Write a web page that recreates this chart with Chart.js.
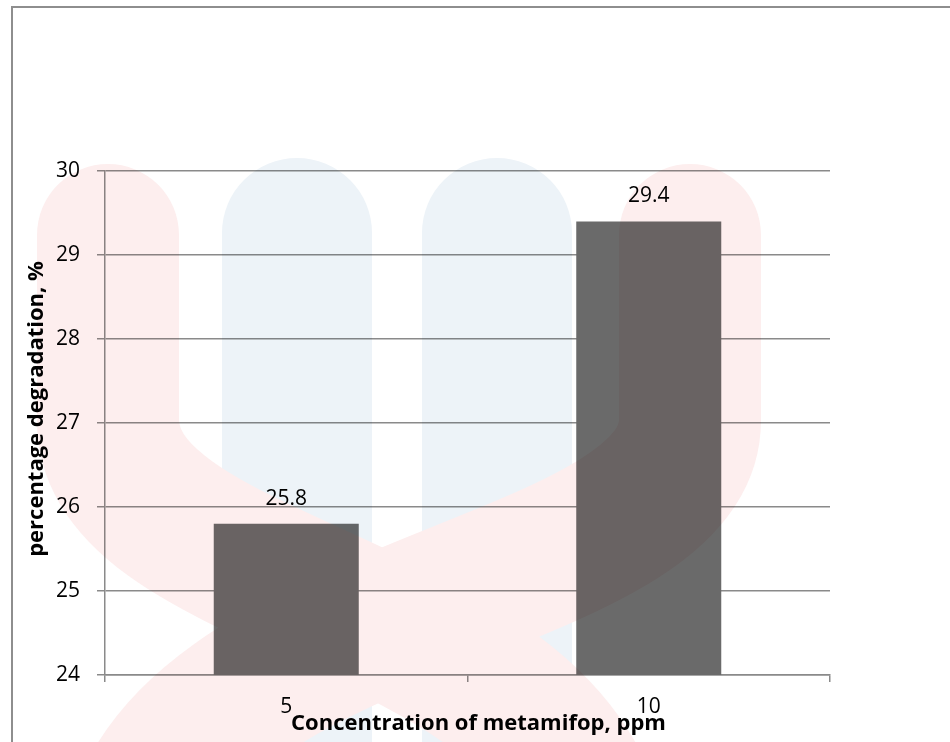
<!DOCTYPE html>
<html><head><meta charset="utf-8">
<script src="https://cdn.jsdelivr.net/npm/chart.js@4.4.1/dist/chart.umd.min.js"></script>
<style>
html,body{margin:0;padding:0;background:#fff;overflow:hidden;}
#wrap{position:relative;width:950px;height:742px;overflow:hidden;}
#c{position:absolute;left:0;top:0;}
#frame{position:absolute;left:11px;top:6px;width:2000px;height:2000px;border-left:2px solid #8e8e8e;border-top:2px solid #8e8e8e;pointer-events:none;}
</style></head><body>
<div id="wrap"><canvas id="c" width="950" height="742"></canvas><div id="frame"></div></div>
<script>
const categories = ['5', '10'];
const degradation = [25.8, 29.4];
const yTicks = [24, 25, 26, 27, 28, 29, 30];
const xTitle = 'Concentration of metamifop, ppm';
const yTitle = 'percentage degradation, %';

const FAMILY = "'Open Sans', sans-serif";
const gridColor = '#8a8a8a';

const valueLabels = {
  id: 'valueLabels',
  afterDatasetsDraw(chart) {
    const ctx = chart.ctx;
    const meta = chart.getDatasetMeta(0);
    const vals = chart.data.datasets[0].data;
    ctx.save();
    ctx.font = '21px ' + FAMILY;
    ctx.fillStyle = '#000';
    ctx.textAlign = 'center';
    ctx.textBaseline = 'alphabetic';
    meta.data.forEach((bar, i) => {
      ctx.fillText(String(vals[i]), bar.x, bar.y - 19);
    });
    ctx.restore();
  }
};

const axisTitles = {
  id: 'axisTitles',
  afterDraw(chart) {
    const ctx = chart.ctx;
    const a = chart.chartArea;
    ctx.save();
    ctx.font = 'bold 22px ' + FAMILY;
    ctx.fillStyle = '#000';
    ctx.textAlign = 'center';
    ctx.textBaseline = 'alphabetic';
    ctx.fillText(xTitle, (a.left + a.right) / 2 + 11, a.bottom + 55);
    ctx.translate(a.left - 68, (a.top + a.bottom) / 2 - 14);
    ctx.rotate(-Math.PI / 2);
    ctx.textBaseline = 'middle';
    ctx.fillText(yTitle, 0, 0);
    ctx.restore();
  }
};

// faint background logo (decorative), blended over the finished chart
const watermark = {
  id: 'watermark',
  afterDraw(chart) {
    const w = chart.width, h = chart.height;
    const off = document.createElement('canvas');
    off.width = w; off.height = h;
    const o = off.getContext('2d');
    o.fillStyle = '#fff';
    o.fillRect(0, 0, w, h);
    o.lineCap = 'round';
    o.strokeStyle = 'rgb(237,243,248)';
    o.lineWidth = 150;
    o.beginPath();
    o.moveTo(297, 233); o.lineTo(297, 900);
    o.moveTo(497, 233); o.lineTo(497, 900);
    o.stroke();
    o.strokeStyle = 'rgb(253,238,238)';
    o.lineWidth = 142;
    o.beginPath();
    o.moveTo(108, 235); o.lineTo(108, 420);
    o.bezierCurveTo(108, 600, 600, 600, 600, 880);
    o.moveTo(690, 235); o.lineTo(690, 420);
    o.bezierCurveTo(690, 600, 130, 600, 130, 880);
    o.stroke();
    const ctx = chart.ctx;
    ctx.save();
    ctx.globalCompositeOperation = 'multiply';
    ctx.drawImage(off, 0, 0);
    ctx.restore();
  }
};

new Chart(document.getElementById('c'), {
  type: 'bar',
  data: {
    labels: categories,
    datasets: [{
      data: degradation,
      backgroundColor: '#6a6a6a',
      borderWidth: 0,
      barPercentage: 0.4,
      categoryPercentage: 1.0
    }]
  },
  options: {
    responsive: false,
    animation: false,
    devicePixelRatio: 1,
    layout: { padding: { left: 0, right: 120, top: 171, bottom: 0 } },
    plugins: { legend: { display: false }, tooltip: { enabled: false } },
    scales: {
      x: {
        grid: { display: true, drawOnChartArea: false, drawTicks: true, tickLength: 7, offset: true, color: gridColor, lineWidth: 1.5 },
        border: { display: true, color: gridColor, width: 1.5 },
        ticks: { color: '#000', font: { family: FAMILY, size: 21 }, padding: 12, maxRotation: 0 },
        afterFit(s) { s.height = 67; }
      },
      y: {
        min: 24, max: 30,
        grid: { color: gridColor, lineWidth: 1.5, tickLength: 8, drawTicks: true },
        border: { display: true, color: gridColor, width: 1.5 },
        ticks: { stepSize: 1, color: '#000', font: { family: FAMILY, size: 21 }, padding: 17 },
        afterBuildTicks(s) { s.ticks = yTicks.map(v => ({ value: v })); },
        afterFit(s) { s.width = 105; }
      }
    }
  },
  plugins: [valueLabels, axisTitles, watermark]
});
</script>
</body></html>
